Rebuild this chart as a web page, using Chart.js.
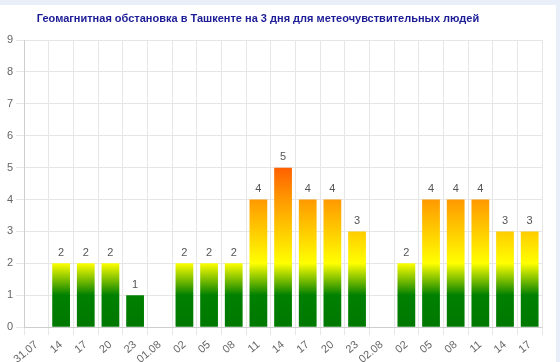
<!DOCTYPE html>
<html>
<head>
<meta charset="utf-8">
<script src="https://cdn.jsdelivr.net/npm/chart.js@4"></script>
<style>
  html, body { margin: 0; padding: 0; background: #e9eff9; overflow: hidden; }
  #wrap { position: absolute; left: 0; top: 5px; width: 556px; height: 364px; background: #fff; }
  #title { position: absolute; left: 0; top: 7px; width: 516px; text-align: center; font: bold 11px "Liberation Sans", Arial, sans-serif; color: #1c1c96; }
  canvas { display: block; }
</style>
</head>
<body>
<div id="wrap">
  <div id="title">Геомагнитная обстановка в Ташкенте на 3 дня для метеочувствительных людей</div>
  <canvas id="geoChart" width="556" height="364"></canvas>
</div>
<script>
var labels = ['31.07', '14', '17', '20', '23', '01.08', '02', '05', '08', '11', '14', '17', '20', '23', '02.08', '02', '05', '08', '11', '14', '17'];
var kpValues = [null, 2, 2, 2, 1, null, 2, 2, 2, 4, 5, 4, 4, 3, null, 2, 4, 4, 4, 3, 3];
var yTicks = [0, 1, 2, 3, 4, 5, 6, 7, 8, 9];

// colour stops by Kp level
var gradStops = [[0, '#007800'], [1, '#008000'], [2, '#ffff00'], [3, '#ffcc00'], [4, '#ff9900'], [5, '#ff6000']];

function barGradient(context) {
    var chart = context.chart;
    var y = chart.scales.y;
    if (!chart.chartArea) return '#008000';
    var g = chart.ctx.createLinearGradient(0, y.getPixelForValue(0), 0, y.getPixelForValue(5));
    gradStops.forEach(function (s) { g.addColorStop(s[0] / 5, s[1]); });
    return g;
}

var valueLabels = {
    id: 'valueLabels',
    afterDatasetsDraw: function (chart) {
        var ctx = chart.ctx;
        var meta = chart.getDatasetMeta(0);
        ctx.save();
        ctx.font = '11px "Liberation Sans", Arial, sans-serif';
        ctx.fillStyle = '#555';
        ctx.textAlign = 'center';
        ctx.textBaseline = 'bottom';
        meta.data.forEach(function (bar, i) {
            if (kpValues[i] == null) return;
            ctx.fillText(kpValues[i], bar.x, bar.y - 5);
        });
        ctx.restore();
    }
};

Chart.defaults.font.family = '"Liberation Sans", Arial, sans-serif';
Chart.defaults.color = '#666';

var geoCtx = document.getElementById('geoChart').getContext('2d');
var geoChart = new Chart(geoCtx, {
    type: 'bar',
    data: {
        labels: labels,
        datasets: [{
            data: kpValues,
            backgroundColor: barGradient,
            borderWidth: 0
        }]
    },
    options: {
        responsive: false,
        animation: false,
        layout: { padding: { left: 4, right: 14, top: 35, bottom: 0 } },
        plugins: {
            legend: { display: false },
            tooltip: { enabled: false }
        },
        scales: {
            x: {
                grid: { color: '#e6e6e6', offset: true },
                ticks: { minRotation: 40, maxRotation: 40, font: { size: 11 }, autoSkip: false }
            },
            y: {
                min: 0,
                max: 9,
                afterBuildTicks: function (axis) {
                    axis.ticks = yTicks.map(function (v) { return { value: v }; });
                },
                grid: { color: '#e6e6e6' },
                ticks: { font: { size: 11 } }
            }
        }
    },
    plugins: [valueLabels]
});
</script>
</body>
</html>
